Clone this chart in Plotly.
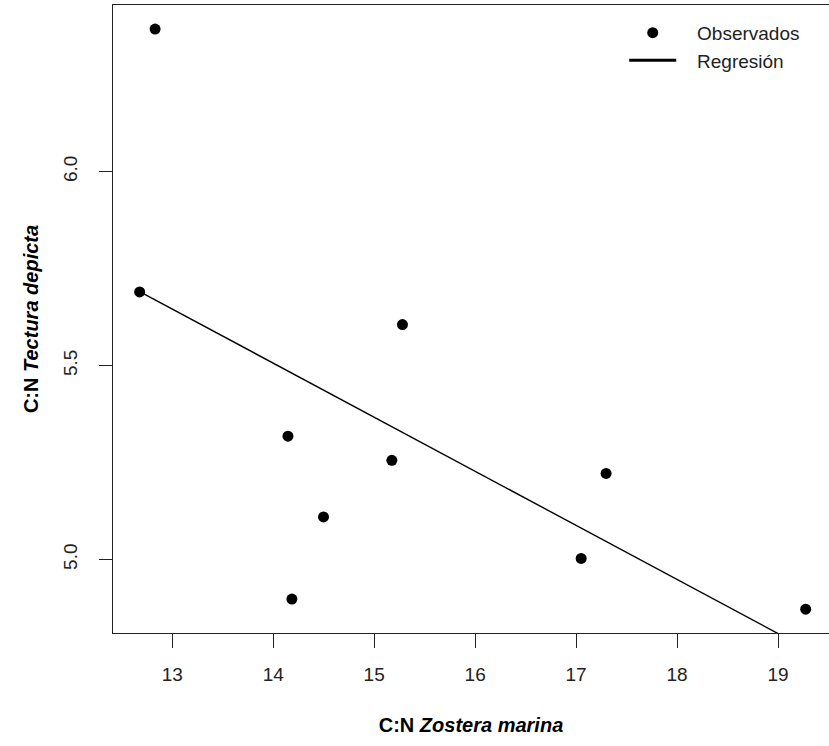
import plotly.graph_objects as go

# Observed data (C:N Zostera marina vs C:N Tectura depicta)
zostera = [12.83, 12.677, 15.28, 14.146, 15.175, 14.498, 14.185, 17.297, 17.05, 19.274]
tectura = [6.368, 5.690, 5.606, 5.318, 5.256, 5.110, 4.898, 5.222, 5.003, 4.872]

# Regression line end points
reg_x = [12.677, 19.274]
reg_y = [5.691, 4.771]

x_ticks = [13, 14, 15, 16, 17, 18, 19]
y_ticks = [5.0, 5.5, 6.0]
y_tick_labels = ["5.0", "5.5", "6.0"]

FONT = "Arial, Liberation Sans, sans-serif"
PAD = "\u00a0\u00a0\u00a0"  # gap between legend symbol and text

fig = go.Figure()
fig.add_trace(go.Scatter(
    x=zostera, y=tectura, mode="markers", name=PAD + "Observados",
    marker=dict(color="black", size=11),
))
fig.add_trace(go.Scatter(
    x=reg_x, y=reg_y, mode="lines", name="Regresión",
    line=dict(color="black", width=1.4), showlegend=False,
))
# legend entry for regression (thicker line as in the original legend)
fig.add_trace(go.Scatter(
    x=[None], y=[None], mode="lines", name=PAD + "Regresión",
    line=dict(color="black", width=3),
))

fig.update_layout(
    width=829, height=746,
    margin=dict(l=113, r=0, t=5, b=113),
    paper_bgcolor="white", plot_bgcolor="white",
    font=dict(family=FONT, size=19, color="#222"),
    showlegend=True,
    legend=dict(
        x=0.714, y=0.986, xanchor="left", yanchor="top",
        bgcolor="rgba(0,0,0,0)", borderwidth=0,
        font=dict(size=19, color="#222"),
        itemwidth=47, tracegroupgap=0,
    ),
    xaxis=dict(
        range=[12.413, 19.505], tickvals=x_ticks,
        showline=True, linecolor="#222", linewidth=1.4, mirror=True,
        ticks="outside", ticklen=14, tickcolor="#222", tickwidth=1.4,
        ticklabelstandoff=10,
        showgrid=False, zeroline=False,
        title=dict(text="<b>C:N <i>Zostera marina</i></b>",
                   font=dict(size=20, color="black"), standoff=33),
        tickfont=dict(size=19),
    ),
    yaxis=dict(
        range=[4.8106, 6.430], tickvals=y_ticks, ticktext=y_tick_labels,
        tickangle=-90,
        showline=True, linecolor="#222", linewidth=1.4, mirror=False,
        ticks="outside", ticklen=13, tickcolor="#222", tickwidth=1.4,
        ticklabelstandoff=14,
        showgrid=False, zeroline=False,
        title=dict(text="<b>C:N <i>Tectura depicta</i></b>",
                   font=dict(size=20, color="black"), standoff=16),
        tickfont=dict(size=19),
    ),
)

fig.write_html("out.html")
